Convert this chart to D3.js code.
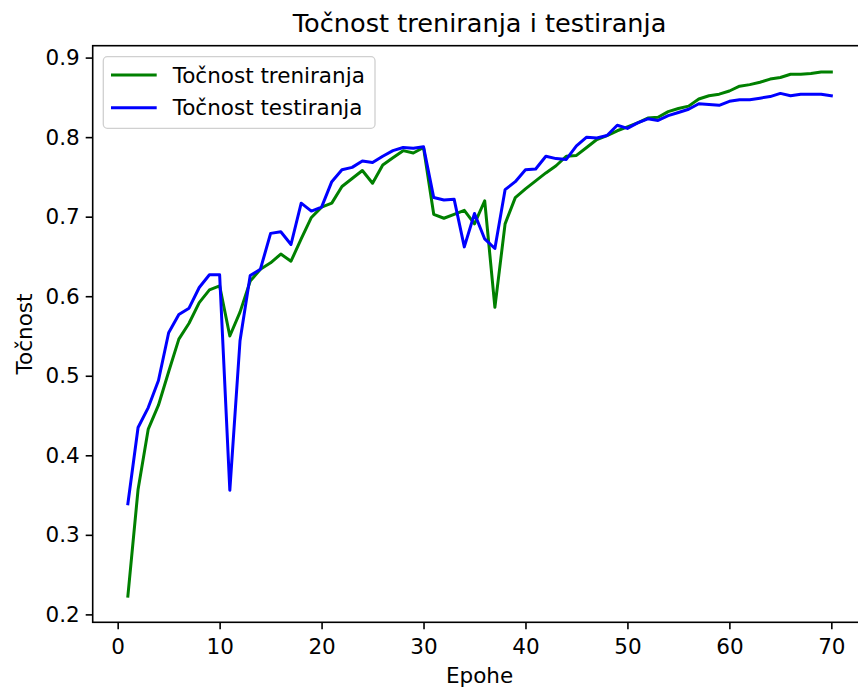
<!DOCTYPE html>
<html>
<head>
<meta charset="utf-8">
<script src="https://cdn.jsdelivr.net/npm/d3@7"></script>
<style>
  body { margin: 0; background: #fff; }
  svg { display: block; font-family: "DejaVu Sans", sans-serif; }
</style>
</head>
<body>
<div id="chart"></div>
<script>
// podaci po epohama
const epochs = d3.range(1, 71);
const trainAcc = [
  0.223, 0.357, 0.433, 0.463, 0.505, 0.546, 0.566, 0.592, 0.608, 0.613,
  0.550, 0.580, 0.619, 0.634, 0.642, 0.653, 0.644, 0.672, 0.699, 0.712,
  0.717, 0.738, 0.748, 0.758, 0.742, 0.765, 0.774, 0.783, 0.780, 0.787,
  0.703, 0.698, 0.703, 0.708, 0.691, 0.720, 0.586, 0.691, 0.724, 0.735,
  0.745, 0.755, 0.764, 0.776, 0.777, 0.787, 0.797, 0.802, 0.808, 0.813,
  0.818, 0.824, 0.825, 0.832, 0.836, 0.839, 0.848, 0.852, 0.854, 0.858,
  0.864, 0.866, 0.869, 0.873, 0.875, 0.879, 0.879, 0.880, 0.882, 0.882
];
const testAcc = [
  0.339, 0.435, 0.460, 0.494, 0.554, 0.577, 0.585, 0.611, 0.627, 0.627,
  0.356, 0.544, 0.626, 0.634, 0.679, 0.681, 0.665, 0.717, 0.707, 0.712,
  0.744, 0.759, 0.762, 0.770, 0.768, 0.776, 0.783, 0.787, 0.786, 0.788,
  0.724, 0.721, 0.722, 0.662, 0.704, 0.672, 0.660, 0.734, 0.744, 0.759,
  0.760, 0.776, 0.773, 0.772, 0.789, 0.800, 0.799, 0.802, 0.815, 0.811,
  0.818, 0.823, 0.821, 0.827, 0.831, 0.835, 0.842, 0.841, 0.840, 0.845,
  0.847, 0.847, 0.849, 0.851, 0.855, 0.852, 0.854, 0.854, 0.854, 0.852
];
const seriesNames = ["Točnost treniranja", "Točnost testiranja"];
const seriesColors = ["#008000", "#0000ff"];
const xTicks = [0, 10, 20, 30, 40, 50, 60, 70];
const yTicks = [0.2, 0.3, 0.4, 0.5, 0.6, 0.7, 0.8, 0.9];

// dimenzije (desni rub osi izlazi izvan slike kao u originalu)
const W = 858, H = 690;
const mLeft = 92.7, mTop = 45.7, plotW = 773.8, plotH = 576.6;
const fs = 21.5;

const svg = d3.select("#chart").append("svg")
  .attr("width", W).attr("height", H);

// skale s 5% margine kao matplotlib
const xPad = (d3.max(epochs) - d3.min(epochs)) * 0.05;
const allVals = trainAcc.concat(testAcc);
const yMin = d3.min(allVals), yMax = d3.max(allVals);
const yPad = (yMax - yMin) * 0.05;

const x = d3.scaleLinear()
  .domain([d3.min(epochs) - xPad, d3.max(epochs) + xPad])
  .range([mLeft, mLeft + plotW]);
const y = d3.scaleLinear()
  .domain([yMin - yPad, yMax + yPad])
  .range([mTop + plotH, mTop]);

// linije
const line = d3.line().x((d, i) => x(epochs[i])).y(d => y(d));
[trainAcc, testAcc].forEach((s, k) => {
  svg.append("path")
    .datum(s)
    .attr("d", line)
    .attr("fill", "none")
    .attr("stroke", seriesColors[k])
    .attr("stroke-width", 3)
    .attr("stroke-linejoin", "round")
    .attr("stroke-linecap", "square");
});

// osi
const xAxis = svg.append("g")
  .attr("transform", `translate(0,${mTop + plotH})`)
  .call(d3.axisBottom(x).tickValues(xTicks).tickSize(7).tickPadding(9).tickSizeOuter(0));
const yAxis = svg.append("g")
  .attr("transform", `translate(${mLeft},0)`)
  .call(d3.axisLeft(y).tickValues(yTicks).tickFormat(d3.format(".1f")).tickSize(7).tickPadding(6).tickSizeOuter(0));

[xAxis, yAxis].forEach(a => {
  a.selectAll("text").attr("font-size", fs).attr("fill", "#000")
    .attr("font-family", "DejaVu Sans, sans-serif");
  a.selectAll("line").attr("stroke", "#000").attr("stroke-width", 1.6);
  a.select(".domain").remove();
});

// okvir
svg.append("rect")
  .attr("x", mLeft).attr("y", mTop)
  .attr("width", plotW).attr("height", plotH)
  .attr("fill", "none").attr("stroke", "#000").attr("stroke-width", 1.6);

// naslov i oznake osi
const cx = mLeft + plotW / 2;
svg.append("text")
  .attr("x", cx).attr("y", 32)
  .attr("text-anchor", "middle").attr("font-size", 25.6)
  .text("Točnost treniranja i testiranja");
svg.append("text")
  .attr("x", cx).attr("y", 683)
  .attr("text-anchor", "middle").attr("font-size", fs)
  .text("Epohe");
svg.append("text")
  .attr("transform", `translate(31.5,${mTop + plotH / 2}) rotate(-90)`)
  .attr("text-anchor", "middle").attr("font-size", fs)
  .text("Točnost");

// legenda
const lg = svg.append("g").attr("transform", "translate(103.3,56.7)");
lg.append("rect")
  .attr("width", 271.7).attr("height", 71.6).attr("rx", 4)
  .attr("fill", "#fff").attr("fill-opacity", 0.8)
  .attr("stroke", "#d0d0d0").attr("stroke-width", 1.3);
seriesNames.forEach((name, i) => {
  const yy = 18.3 + i * 32.7;
  lg.append("line")
    .attr("x1", 7.7).attr("x2", 53.4).attr("y1", yy).attr("y2", yy)
    .attr("stroke", seriesColors[i]).attr("stroke-width", 3);
  lg.append("text")
    .attr("x", 69.4).attr("y", yy + 7.7)
    .attr("font-size", fs)
    .text(name);
});
</script>
</body>
</html>
